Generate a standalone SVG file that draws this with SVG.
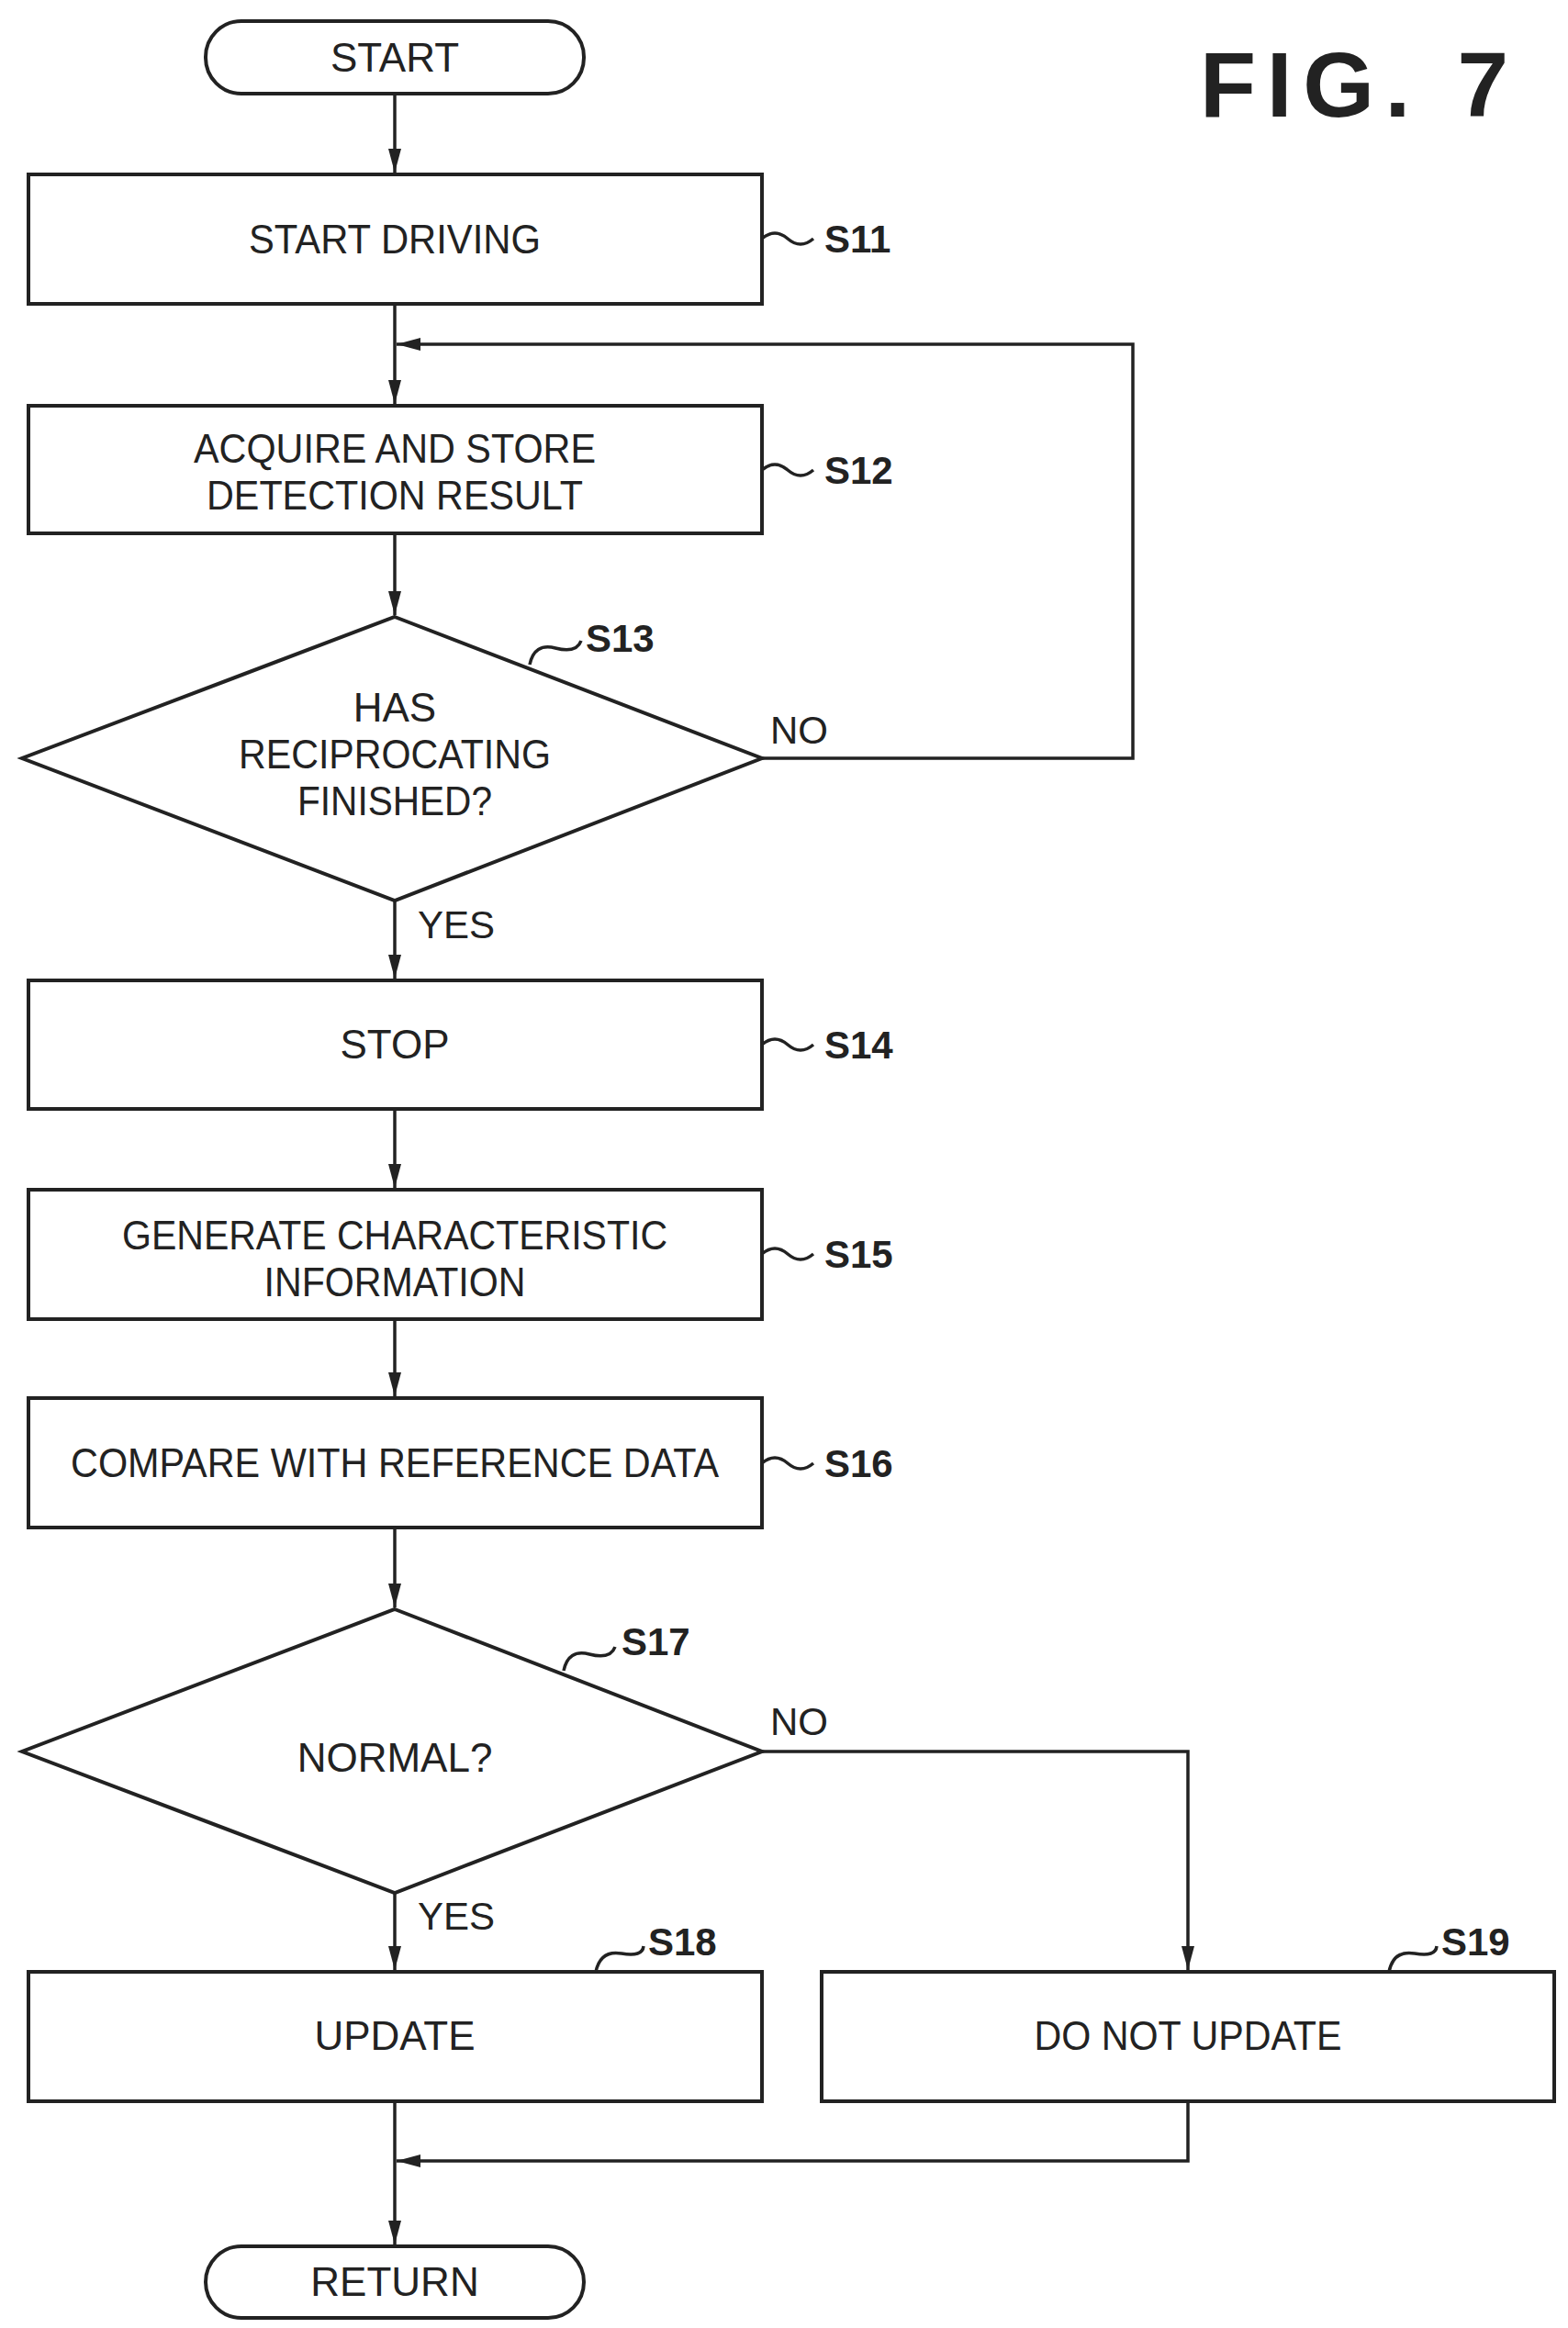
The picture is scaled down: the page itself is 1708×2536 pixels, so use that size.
<svg xmlns="http://www.w3.org/2000/svg" width="1708" height="2536" viewBox="0 0 1708 2536">
<style>
.s{fill:#fff;stroke:#222;stroke-width:4}
.c{fill:none;stroke:#222;stroke-width:3.5}
.t{font-family:"Liberation Sans Narrow","Liberation Sans",sans-serif;font-size:44px;fill:#222;text-anchor:middle}
.l{font-family:"Liberation Sans",sans-serif;font-weight:bold;font-size:42px;fill:#222}
.y{font-family:"Liberation Sans Narrow","Liberation Sans",sans-serif;font-size:42px;fill:#222}
</style>
<defs><marker id="a" markerWidth="26" markerHeight="24" refX="26" refY="12" orient="auto" markerUnits="userSpaceOnUse"><path d="M0,5 L26,12 L0,19 Z" fill="#222"/></marker></defs>
<rect width="1708" height="2536" fill="#fff"/>
<text x="1307" y="127" font-family="Liberation Sans,sans-serif" font-weight="bold" font-size="100" textLength="336" lengthAdjust="spacing" fill="#222">FIG. 7</text>
<g id="connectors">
<path class="c" d="M430,102 V188" marker-end="url(#a)"/>
<path class="c" d="M430,331 V440" marker-end="url(#a)"/>
<path class="c" d="M430,581 V670" marker-end="url(#a)"/>
<path class="c" d="M830,826 H1234 V375 H432" marker-end="url(#a)"/>
<path class="c" d="M430,981 V1066" marker-end="url(#a)"/>
<path class="c" d="M430,1208 V1294" marker-end="url(#a)"/>
<path class="c" d="M430,1437 V1521" marker-end="url(#a)"/>
<path class="c" d="M430,1664 V1751" marker-end="url(#a)"/>
<path class="c" d="M430,2062 V2146" marker-end="url(#a)"/>
<path class="c" d="M830,1908 H1294 V2146" marker-end="url(#a)"/>
<path class="c" d="M430,2289 V2445" marker-end="url(#a)"/>
<path class="c" d="M1294,2289 V2354 H432" marker-end="url(#a)"/>
<text class="y" x="839" y="810">NO</text>
<text class="y" x="455" y="1022">YES</text>
<text class="y" x="839" y="1890">NO</text>
<text class="y" x="455" y="2102">YES</text>
</g>
<g id="start"><rect class="s" x="224" y="23" width="412" height="79" rx="39"/><text class="t" x="430" y="78">START</text></g>
<g id="s11"><rect class="s" x="31" y="190" width="799" height="141"/><text class="t" x="430" y="276" textLength="318" lengthAdjust="spacingAndGlyphs">START DRIVING</text>
<path class="c" d="M830,260 q14,-12 28,0 t28,0"/><text class="l" x="898" y="275">S11</text></g>
<g id="s12"><rect class="s" x="31" y="442" width="799" height="139"/><text class="t" x="430" y="504" textLength="438" lengthAdjust="spacingAndGlyphs">ACQUIRE AND STORE</text><text class="t" x="430" y="555" textLength="410" lengthAdjust="spacingAndGlyphs">DETECTION RESULT</text>
<path class="c" d="M830,512 q14,-12 28,0 t28,0"/><text class="l" x="898" y="527">S12</text></g>
<g id="s13"><path class="s" d="M430,672 L830,826 L430,981 L24,826 Z"/><text class="t" x="430" y="786">HAS</text><text class="t" x="430" y="837" textLength="340" lengthAdjust="spacingAndGlyphs">RECIPROCATING</text><text class="t" x="430" y="888" textLength="212" lengthAdjust="spacingAndGlyphs">FINISHED?</text>
<path class="c" d="M577,724 q5,-24 28,-18 t28,-8"/><text class="l" x="638" y="710">S13</text></g>
<g id="s14"><rect class="s" x="31" y="1068" width="799" height="140"/><text class="t" x="430" y="1153">STOP</text>
<path class="c" d="M830,1138 q14,-12 28,0 t28,0"/><text class="l" x="898" y="1153">S14</text></g>
<g id="s15"><rect class="s" x="31" y="1296" width="799" height="141"/><text class="t" x="430" y="1361" textLength="594" lengthAdjust="spacingAndGlyphs">GENERATE CHARACTERISTIC</text><text class="t" x="430" y="1412" textLength="285" lengthAdjust="spacingAndGlyphs">INFORMATION</text>
<path class="c" d="M830,1366 q14,-12 28,0 t28,0"/><text class="l" x="898" y="1381">S15</text></g>
<g id="s16"><rect class="s" x="31" y="1523" width="799" height="141"/><text class="t" x="430" y="1609" textLength="706" lengthAdjust="spacingAndGlyphs">COMPARE WITH REFERENCE DATA</text>
<path class="c" d="M830,1594 q14,-12 28,0 t28,0"/><text class="l" x="898" y="1609">S16</text></g>
<g id="s17"><path class="s" d="M430,1753 L830,1908 L430,2062 L24,1908 Z"/><text class="t" x="430" y="1930">NORMAL?</text>
<path class="c" d="M614,1820 q5,-24 28,-18 t28,-8"/><text class="l" x="677" y="1803">S17</text></g>
<g id="s18"><rect class="s" x="31" y="2148" width="799" height="141"/><text class="t" x="430" y="2233">UPDATE</text>
<path class="c" d="M649,2148 q5,-24 28,-20 t24,-8"/><text class="l" x="706" y="2130">S18</text></g>
<g id="s19"><rect class="s" x="895" y="2148" width="798" height="141"/><text class="t" x="1294" y="2233" textLength="335" lengthAdjust="spacingAndGlyphs">DO NOT UPDATE</text>
<path class="c" d="M1513,2148 q5,-24 28,-20 t24,-8"/><text class="l" x="1570" y="2130">S19</text></g>
<g id="return"><rect class="s" x="224" y="2447" width="412" height="78" rx="39"/><text class="t" x="430" y="2501">RETURN</text></g>
</svg>
